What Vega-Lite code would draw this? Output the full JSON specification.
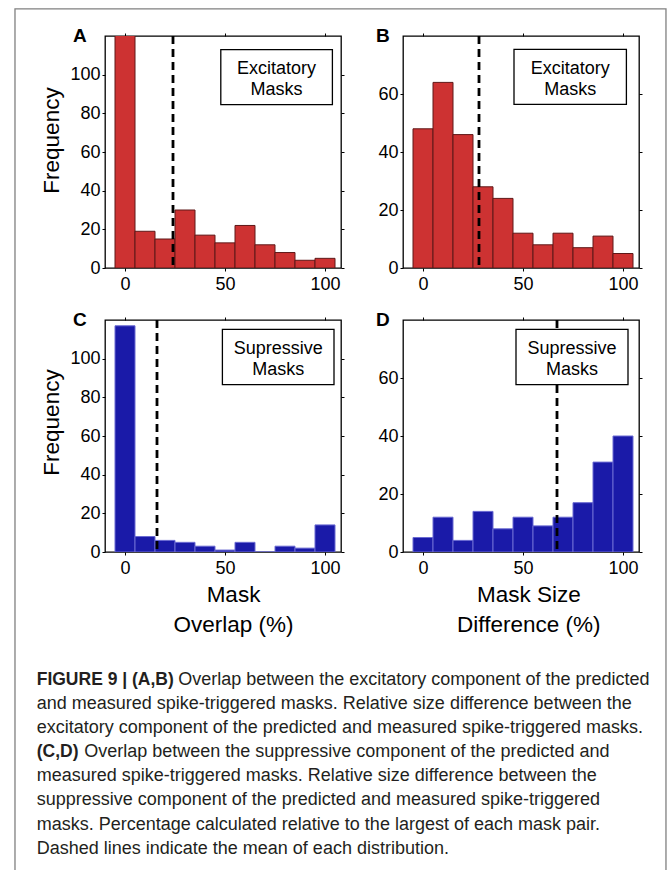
{
  "$schema": "https://vega.github.io/schema/vega-lite/v6.json",
  "background": "white",
  "padding": {"left": 14, "top": 8, "right": 5, "bottom": 0},
  "autosize": {"type": "pad"},
  "columns": 2,
  "spacing": {"row": 52, "column": 62},
  "bounds": "flush",
  "concat": [
    {
      "width": 236, "height": 232,
      "title": {"text": "A", "anchor": "start", "frame": "group", "dx": -32, "dy": 28, "offset": 0, "baseline": "alphabetic", "fontSize": 19, "fontWeight": "bold", "font": "Liberation Sans", "color": "black"},
      "layer": [
        {
          "data": {"values": [
            {"lo": -5, "hi": 5, "n": 127}, {"lo": 5, "hi": 15, "n": 19}, {"lo": 15, "hi": 25, "n": 15}, {"lo": 25, "hi": 35, "n": 30},
            {"lo": 35, "hi": 45, "n": 17}, {"lo": 45, "hi": 55, "n": 13}, {"lo": 55, "hi": 65, "n": 22}, {"lo": 65, "hi": 75, "n": 12},
            {"lo": 75, "hi": 85, "n": 8}, {"lo": 85, "hi": 95, "n": 4}, {"lo": 95, "hi": 105, "n": 5}]},
          "mark": {"type": "rect", "fill": "#cd3232", "stroke": "#5e1818", "strokeWidth": 1, "clip": true},
          "encoding": {
            "x": {"field": "lo", "type": "quantitative", "scale": {"domain": [-10, 108], "nice": false, "zero": false},
                  "axis": {"orient": "bottom", "values": [0, 50, 100], "tickSize": 3, "labelPadding": 4, "title": null}},
            "x2": {"field": "hi"},
            "y": {"field": "n", "type": "quantitative", "scale": {"domain": [0, 120], "nice": false},
                  "axis": {"orient": "left", "values": [0, 20, 40, 60, 80, 100], "tickSize": 3, "labelPadding": 2, "title": "Frequency", "titleX": -54, "titleY": 104, "titleBaseline": "middle", "titleAlign": "center"}},
            "y2": {"datum": 0}
          }
        },
        {
          "data": {"values": [{"mean": 24}]},
          "mark": {"type": "rule", "strokeDash": [8, 5], "strokeWidth": 2.8, "color": "black"},
          "encoding": {"x": {"field": "mean", "type": "quantitative", "axis": null}}
        },
        {
          "data": {"values": [{}]},
          "mark": {"type": "rect", "fill": "white", "stroke": "black", "strokeWidth": 1.3},
          "encoding": {
            "x": {"datum": 47.9, "type": "quantitative", "axis": {"orient": "top", "values": [0, 50, 100], "labels": false, "tickSize": 3, "title": null}},
            "x2": {"datum": 103.7},
            "y": {"datum": 84.5, "type": "quantitative", "axis": {"orient": "right", "values": [0, 20, 40, 60, 80, 100], "labels": false, "tickSize": 3, "title": null}},
            "y2": {"datum": 113.0}
          }
        },
        {
          "data": {"values": [{}]},
          "mark": {"type": "text", "text": ["Excitatory", "Masks"], "fontSize": 18, "font": "Liberation Sans", "lineHeight": 20.7, "baseline": "alphabetic", "align": "center", "color": "black"},
          "encoding": {"x": {"datum": 75.8, "type": "quantitative", "axis": null}, "y": {"datum": 100.2, "type": "quantitative", "axis": null}}
        }
      ],
      "resolve": {"axis": {"x": "independent", "y": "independent"}}
    },
    {
      "width": 236, "height": 232,
      "title": {"text": "B", "anchor": "start", "frame": "group", "dx": -27, "dy": 28, "offset": 0, "baseline": "alphabetic", "fontSize": 19, "fontWeight": "bold", "font": "Liberation Sans", "color": "black"},
      "layer": [
        {
          "data": {"values": [
            {"lo": -5, "hi": 5, "n": 48}, {"lo": 5, "hi": 15, "n": 64}, {"lo": 15, "hi": 25, "n": 46}, {"lo": 25, "hi": 35, "n": 28},
            {"lo": 35, "hi": 45, "n": 24}, {"lo": 45, "hi": 55, "n": 12}, {"lo": 55, "hi": 65, "n": 8}, {"lo": 65, "hi": 75, "n": 12},
            {"lo": 75, "hi": 85, "n": 7}, {"lo": 85, "hi": 95, "n": 11}, {"lo": 95, "hi": 105, "n": 5}]},
          "mark": {"type": "rect", "fill": "#cd3232", "stroke": "#5e1818", "strokeWidth": 1, "clip": true},
          "encoding": {
            "x": {"field": "lo", "type": "quantitative", "scale": {"domain": [-10, 108], "nice": false, "zero": false},
                  "axis": {"orient": "bottom", "values": [0, 50, 100], "tickSize": 3, "labelPadding": 4, "title": null}},
            "x2": {"field": "hi"},
            "y": {"field": "n", "type": "quantitative", "scale": {"domain": [0, 80], "nice": false},
                  "axis": {"orient": "left", "values": [0, 20, 40, 60], "tickSize": 3, "labelPadding": 2, "title": null}},
            "y2": {"datum": 0}
          }
        },
        {
          "data": {"values": [{"mean": 28}]},
          "mark": {"type": "rule", "strokeDash": [8, 5], "strokeWidth": 2.8, "color": "black"},
          "encoding": {"x": {"field": "mean", "type": "quantitative", "axis": null}}
        },
        {
          "data": {"values": [{}]},
          "mark": {"type": "rect", "fill": "white", "stroke": "black", "strokeWidth": 1.3},
          "encoding": {
            "x": {"datum": 45.5, "type": "quantitative", "axis": {"orient": "top", "values": [0, 50, 100], "labels": false, "tickSize": 3, "title": null}},
            "x2": {"datum": 101.7},
            "y": {"datum": 56.4, "type": "quantitative", "axis": {"orient": "right", "values": [0, 20, 40, 60], "labels": false, "tickSize": 3, "title": null}},
            "y2": {"datum": 75.4}
          }
        },
        {
          "data": {"values": [{}]},
          "mark": {"type": "text", "text": ["Excitatory", "Masks"], "fontSize": 18, "font": "Liberation Sans", "lineHeight": 20.7, "baseline": "alphabetic", "align": "center", "color": "black"},
          "encoding": {"x": {"datum": 73.6, "type": "quantitative", "axis": null}, "y": {"datum": 66.8, "type": "quantitative", "axis": null}}
        }
      ],
      "resolve": {"axis": {"x": "independent", "y": "independent"}}
    },
    {
      "width": 236, "height": 232,
      "title": {"text": "C", "anchor": "start", "frame": "group", "dx": -32, "dy": 28, "offset": 0, "baseline": "alphabetic", "fontSize": 19, "fontWeight": "bold", "font": "Liberation Sans", "color": "black"},
      "layer": [
        {
          "data": {"values": [
            {"lo": -5, "hi": 5, "n": 117}, {"lo": 5, "hi": 15, "n": 8}, {"lo": 15, "hi": 25, "n": 6}, {"lo": 25, "hi": 35, "n": 5},
            {"lo": 35, "hi": 45, "n": 3}, {"lo": 45, "hi": 55, "n": 1}, {"lo": 55, "hi": 65, "n": 5}, {"lo": 65, "hi": 75, "n": 0},
            {"lo": 75, "hi": 85, "n": 3}, {"lo": 85, "hi": 95, "n": 2}, {"lo": 95, "hi": 105, "n": 14}]},
          "mark": {"type": "rect", "fill": "#1a1aa8", "stroke": "#6a6ad2", "strokeWidth": 1, "clip": true},
          "encoding": {
            "x": {"field": "lo", "type": "quantitative", "scale": {"domain": [-10, 108], "nice": false, "zero": false},
                  "axis": {"orient": "bottom", "values": [0, 50, 100], "tickSize": 3, "labelPadding": 4, "title": ["Mask", "Overlap (%)"], "titleX": 128, "titleY": 49, "titleAlign": "center", "titleBaseline": "alphabetic", "titleLineHeight": 30}},
            "x2": {"field": "hi"},
            "y": {"field": "n", "type": "quantitative", "scale": {"domain": [0, 120], "nice": false},
                  "axis": {"orient": "left", "values": [0, 20, 40, 60, 80, 100], "tickSize": 3, "labelPadding": 2, "title": "Frequency", "titleX": -54, "titleY": 102, "titleBaseline": "middle", "titleAlign": "center"}},
            "y2": {"datum": 0}
          }
        },
        {
          "data": {"values": [{"mean": 16}]},
          "mark": {"type": "rule", "strokeDash": [8, 5], "strokeWidth": 2.8, "color": "black"},
          "encoding": {"x": {"field": "mean", "type": "quantitative", "axis": null}}
        },
        {
          "data": {"values": [{}]},
          "mark": {"type": "rect", "fill": "white", "stroke": "black", "strokeWidth": 1.3},
          "encoding": {
            "x": {"datum": 48.7, "type": "quantitative", "axis": {"orient": "top", "values": [0, 50, 100], "labels": false, "tickSize": 3, "title": null}},
            "x2": {"datum": 104.5},
            "y": {"datum": 86.6, "type": "quantitative", "axis": {"orient": "right", "values": [0, 20, 40, 60, 80, 100], "labels": false, "tickSize": 3, "title": null}},
            "y2": {"datum": 115.2}
          }
        },
        {
          "data": {"values": [{}]},
          "mark": {"type": "text", "text": ["Supressive", "Masks"], "fontSize": 18, "font": "Liberation Sans", "lineHeight": 20.7, "baseline": "alphabetic", "align": "center", "color": "black"},
          "encoding": {"x": {"datum": 76.6, "type": "quantitative", "axis": null}, "y": {"datum": 102.3, "type": "quantitative", "axis": null}}
        }
      ],
      "resolve": {"axis": {"x": "independent", "y": "independent"}}
    },
    {
      "width": 236, "height": 232,
      "title": {"text": "D", "anchor": "start", "frame": "group", "dx": -27, "dy": 28, "offset": 0, "baseline": "alphabetic", "fontSize": 19, "fontWeight": "bold", "font": "Liberation Sans", "color": "black"},
      "layer": [
        {
          "data": {"values": [
            {"lo": -5, "hi": 5, "n": 5}, {"lo": 5, "hi": 15, "n": 12}, {"lo": 15, "hi": 25, "n": 4}, {"lo": 25, "hi": 35, "n": 14},
            {"lo": 35, "hi": 45, "n": 8}, {"lo": 45, "hi": 55, "n": 12}, {"lo": 55, "hi": 65, "n": 9}, {"lo": 65, "hi": 75, "n": 12},
            {"lo": 75, "hi": 85, "n": 17}, {"lo": 85, "hi": 95, "n": 31}, {"lo": 95, "hi": 105, "n": 40}]},
          "mark": {"type": "rect", "fill": "#1a1aa8", "stroke": "#6a6ad2", "strokeWidth": 1, "clip": true},
          "encoding": {
            "x": {"field": "lo", "type": "quantitative", "scale": {"domain": [-10, 108], "nice": false, "zero": false},
                  "axis": {"orient": "bottom", "values": [0, 50, 100], "tickSize": 3, "labelPadding": 4, "title": ["Mask Size", "Difference (%)"], "titleX": 125.3, "titleY": 49, "titleAlign": "center", "titleBaseline": "alphabetic", "titleLineHeight": 30}},
            "x2": {"field": "hi"},
            "y": {"field": "n", "type": "quantitative", "scale": {"domain": [0, 80], "nice": false},
                  "axis": {"orient": "left", "values": [0, 20, 40, 60], "tickSize": 3, "labelPadding": 2, "title": null}},
            "y2": {"datum": 0}
          }
        },
        {
          "data": {"values": [{"mean": 67}]},
          "mark": {"type": "rule", "strokeDash": [8, 5], "strokeWidth": 2.8, "color": "black"},
          "encoding": {"x": {"field": "mean", "type": "quantitative", "axis": null}}
        },
        {
          "data": {"values": [{}]},
          "mark": {"type": "rect", "fill": "white", "stroke": "black", "strokeWidth": 1.3},
          "encoding": {
            "x": {"datum": 46.5, "type": "quantitative", "axis": {"orient": "top", "values": [0, 50, 100], "labels": false, "tickSize": 3, "title": null}},
            "x2": {"datum": 102.5},
            "y": {"datum": 57.7, "type": "quantitative", "axis": {"orient": "right", "values": [0, 20, 40, 60], "labels": false, "tickSize": 3, "title": null}},
            "y2": {"datum": 76.8}
          }
        },
        {
          "data": {"values": [{}]},
          "mark": {"type": "text", "text": ["Supressive", "Masks"], "fontSize": 18, "font": "Liberation Sans", "lineHeight": 20.7, "baseline": "alphabetic", "align": "center", "color": "black"},
          "encoding": {"x": {"datum": 74.5, "type": "quantitative", "axis": null}, "y": {"datum": 68.2, "type": "quantitative", "axis": null}}
        }
      ],
      "resolve": {"axis": {"x": "independent", "y": "independent"}}
    },
    {
      "width": 236, "height": 265.1,
      "view": {"stroke": null},
      "layer": [
        {
          "data": {"values": [{}]},
          "mark": {"type": "rect", "fill": "white", "fillOpacity": 0, "stroke": "#808080", "strokeWidth": 1.3},
          "encoding": {
            "x": {"datum": -38.14, "type": "quantitative", "scale": {"domain": [0, 100], "nice": false, "zero": false}, "axis": null},
            "x2": {"datum": 237.7},
            "y": {"datum": -27.05, "type": "quantitative", "scale": {"domain": [-2.36, 8.64], "reverse": true, "nice": false, "zero": false}, "axis": null},
            "y2": {"datum": 8.97}
          }
        },
        {
          "data": {"values": [
            {"line": 2, "text": "and measured spike-triggered masks. Relative size difference between the"},
            {"line": 3, "text": "excitatory component of the predicted and measured spike-triggered masks."},
            {"line": 5, "text": "measured spike-triggered masks. Relative size difference between the"},
            {"line": 6, "text": "suppressive component of the predicted and measured spike-triggered"},
            {"line": 7, "text": "masks. Percentage calculated relative to the largest of each mask pair."},
            {"line": 8, "text": "Dashed lines indicate the mean of each distribution."}]},
          "mark": {"type": "text", "align": "left", "baseline": "alphabetic", "fontSize": 18, "font": "Liberation Sans", "color": "#231f20"},
          "encoding": {"x": {"datum": -28.94, "type": "quantitative"}, "y": {"field": "line", "type": "quantitative"}, "text": {"field": "text"}}
        },
        {
          "data": {"values": [
            {"line": 1, "text": "FIGURE 9 | (A,B)"},
            {"line": 4, "text": "(C,D)"}]},
          "mark": {"type": "text", "align": "left", "baseline": "alphabetic", "fontSize": 17.5, "fontWeight": "bold", "font": "Liberation Sans", "color": "#231f20"},
          "encoding": {"x": {"datum": -28.94, "type": "quantitative"}, "y": {"field": "line", "type": "quantitative"}, "text": {"field": "text"}}
        },
        {
          "data": {"values": [{"line": 1, "text": "Overlap between the excitatory component of the predicted"}]},
          "mark": {"type": "text", "align": "left", "baseline": "alphabetic", "fontSize": 18, "font": "Liberation Sans", "color": "#231f20", "dx": 141.5},
          "encoding": {"x": {"datum": -28.94, "type": "quantitative"}, "y": {"field": "line", "type": "quantitative"}, "text": {"field": "text"}}
        },
        {
          "data": {"values": [{"line": 4, "text": "Overlap between the suppressive component of the predicted and"}]},
          "mark": {"type": "text", "align": "left", "baseline": "alphabetic", "fontSize": 18, "font": "Liberation Sans", "color": "#231f20", "dx": 47.5},
          "encoding": {"x": {"datum": -28.94, "type": "quantitative"}, "y": {"field": "line", "type": "quantitative"}, "text": {"field": "text"}}
        }
      ]
    }
  ],
  "config": {
    "view": {"stroke": "black", "strokeWidth": 1.3},
    "axis": {"domain": false, "grid": false, "labelFont": "Liberation Sans", "labelFontSize": 18, "labelColor": "black", "tickColor": "black", "tickWidth": 1, "titleFont": "Liberation Sans", "titleFontWeight": "normal", "titleColor": "black", "titleFontSize": 22.5},
    "text": {"font": "Liberation Sans"}
  }
}
